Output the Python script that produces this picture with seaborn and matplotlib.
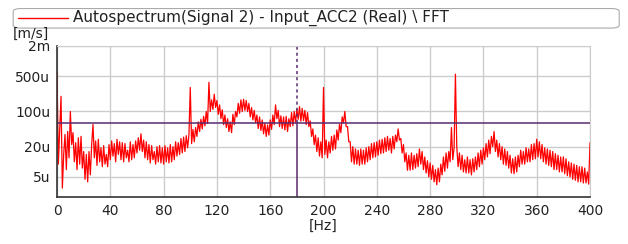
import numpy as np
import pandas as pd
import matplotlib
matplotlib.use("Agg")
import matplotlib.pyplot as plt
import seaborn as sns
from matplotlib.patches import FancyBboxPatch
from matplotlib.lines import Line2D

# spectrum, u(m/s), one value per Hz from 0 to 400
freq = list(range(0, 401))
amp_u = [
    600, 9, 45, 200, 3, 14, 35, 7, 40, 12,
    100, 22, 38, 10, 24, 7, 30, 9, 32, 7.5,
    16, 4.5, 14, 4, 16, 5.5, 22, 55, 12, 26,
    8.5, 28, 10, 19, 8, 21, 9, 14, 8, 22,
    11, 26, 13, 23, 10, 28, 14, 25, 11, 24,
    10, 23, 12, 17, 10, 25, 11, 22, 12, 26,
    15, 30, 17, 36, 16, 27, 12, 25, 11, 22,
    9.5, 21, 11, 16, 9, 20, 10, 21, 9.5, 19,
    9, 21, 10, 19, 9.5, 22, 10, 20, 11, 25,
    13, 24, 14, 29, 15, 31, 16, 33, 19, 34,
    300, 23, 44, 25, 48, 32, 62, 40, 70, 45,
    80, 52, 100, 58, 380, 100, 170, 110, 220, 120,
    165, 88, 135, 72, 108, 55, 85, 48, 72, 40,
    62, 38, 88, 55, 100, 78, 145, 92, 170, 100,
    175, 105, 165, 100, 145, 78, 120, 68, 105, 60,
    85, 46, 78, 42, 68, 36, 58, 32, 54, 34,
    68, 44, 85, 55, 135, 72, 105, 50, 82, 46,
    78, 43, 80, 40, 72, 50, 95, 52, 100, 60,
    110, 70, 125, 64, 115, 66, 105, 55, 95, 50,
    65, 32, 45, 22, 34, 16, 30, 13, 25, 12,
    300, 14, 27, 12, 25, 15, 32, 17, 34, 18,
    43, 27, 56, 38, 78, 60, 100, 50, 50, 25,
    25, 10, 20, 9, 18, 9, 17, 8.5, 18, 9,
    17, 9, 19, 10, 20, 11, 23, 12, 24, 12.5,
    25, 13.5, 27, 14.5, 28, 15, 30, 16, 32, 17,
    29, 15, 32, 18, 34, 25, 45, 27, 29, 15,
    22, 10, 15, 6.8, 13.5, 6.8, 15, 7, 13.5, 7.5,
    14.5, 8, 18, 9, 16, 7, 12.5, 6, 10.5, 5,
    9.5, 4.5, 8.5, 4, 7, 3.5, 7.5, 4, 9, 5.5,
    12.5, 6.5, 15, 7.5, 16, 10, 48, 11, 19, 550,
    20, 8, 15, 7, 13.5, 6.3, 11, 6, 12.5, 6,
    11, 5.5, 11.5, 6.3, 12.5, 7, 15, 8, 17, 9,
    19, 11, 23, 12.5, 27, 14.5, 32, 20, 40, 16,
    27, 12.5, 23, 11, 20, 9, 18, 8.5, 16, 7.5,
    13.5, 6, 11.5, 5.8, 12.5, 6.3, 13.5, 8, 17, 9,
    16, 9, 19, 10, 18, 10, 22, 11, 23, 11.5,
    28, 12.5, 25, 11.5, 22, 10, 19, 9, 18, 8.5,
    17, 8, 16, 7, 14.5, 7, 13.5, 6.3, 12.5, 6.3,
    12.5, 5.8, 11.5, 5.3, 10, 5, 9.5, 4.5, 9, 4.3,
    8.5, 4, 8, 4, 8, 3.8, 7.5, 3.8, 6.3, 3.6,
    24,
]

cursor_x = 180
cursor_y = 58e-6

df = pd.DataFrame({"Hz": freq, "amp": [a * 1e-6 for a in amp_u]})

sns.set_style("white")
plt.rcParams["font.family"] = ["DejaVu Sans"]

fig = plt.figure(figsize=(6.28, 2.44), dpi=100)
ax = fig.add_axes([0.0908, 0.1926, 0.8487, 0.619])

sns.lineplot(data=df, x="Hz", y="amp", ax=ax, color="#ff0000", lw=0.9,
             estimator=None, sort=True, legend=False)

ax.set_yscale("log")
ax.set_xlim(0, 400)
ax.set_ylim(2e-6, 2e-3)
ax.set_xticks(range(0, 401, 40))
ax.set_yticks([5e-6, 20e-6, 100e-6, 500e-6, 2e-3])
ax.set_yticklabels(["5u", "20u", "100u", "500u", "2m"])
ax.yaxis.set_minor_locator(matplotlib.ticker.NullLocator())
ax.grid(True, color="#cccccc", lw=1)
ax.set_axisbelow(True)

for s in ["top", "right"]:
    ax.spines[s].set_color("#cccccc")
for s in ["left", "bottom"]:
    ax.spines[s].set_color("#333333")
    ax.spines[s].set_linewidth(1.2)
ax.tick_params(axis="both", which="major", direction="out", length=3,
               width=1, color="#333333", labelsize=10, labelcolor="#222222", pad=2)

ax.set_xlabel("[Hz]", fontsize=10, color="#222222", labelpad=1)
ax.set_ylabel("")
fig.text(0.021, 0.862, "[m/s]", fontsize=10, color="#222222", va="center")

# cursor lines
cur = "#5a2a6e"
ax.axhline(cursor_y, color=cur, lw=1.1)
ax.plot([cursor_x, cursor_x], [2e-6, cursor_y], color=cur, lw=1.1)
ax.plot([cursor_x, cursor_x], [cursor_y, 2e-3], color=cur, lw=1.1, ls=(0, (2, 2)))

# legend box at the top
box = FancyBboxPatch((0.021, 0.885), 0.965, 0.08, boxstyle="round,pad=0,rounding_size=0.012",
                     transform=fig.transFigure, fc="white", ec="#aaaaaa", lw=0.8)
fig.patches.append(box)
fig.lines.append(Line2D([0.028, 0.108], [0.925, 0.925], transform=fig.transFigure,
                        color="#ff0000", lw=1))
fig.text(0.116, 0.925, "Autospectrum(Signal 2) - Input_ACC2 (Real) \\ FFT",
         fontsize=11, color="#222222", va="center")

fig.savefig("out.png", dpi=100)
